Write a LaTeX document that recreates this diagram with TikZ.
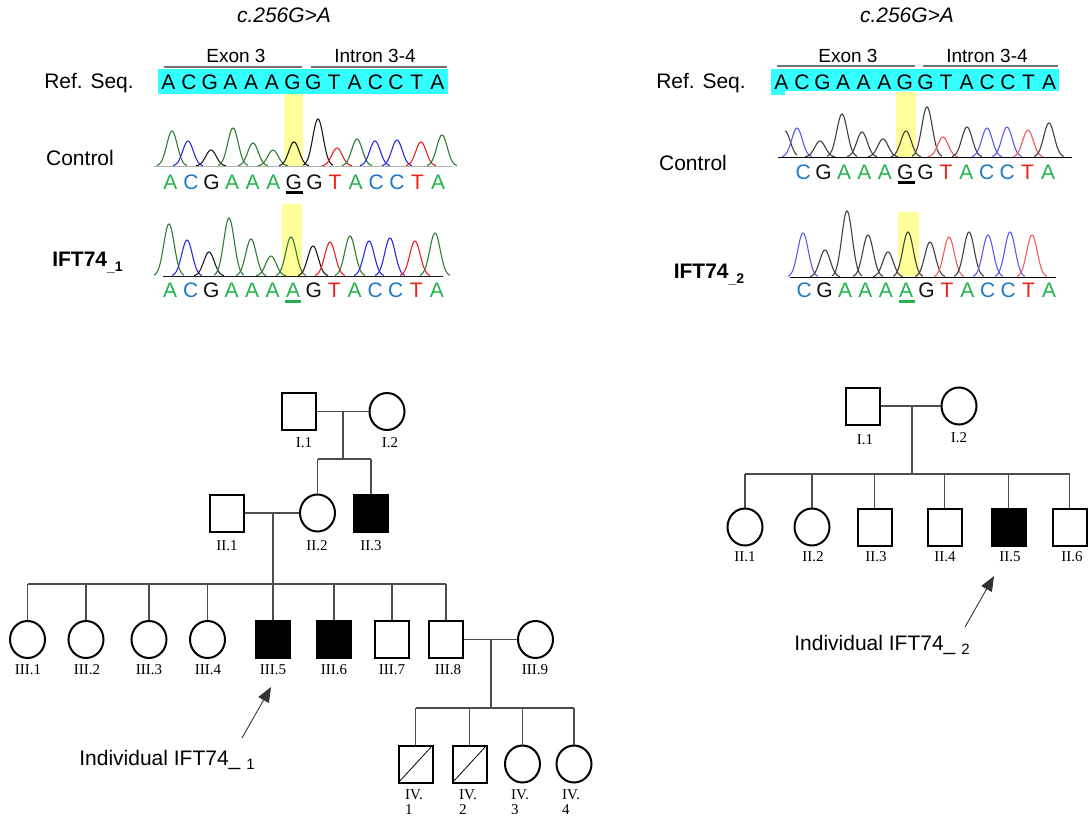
\documentclass[tikz,border=0pt]{standalone}
\usepackage{fontspec}
\setmainfont{Liberation Sans}
\newfontfamily\tms{Liberation Serif}
\usepackage{tikz}
\usetikzlibrary{shapes.geometric,arrows.meta,positioning,calc}
\definecolor{refcyan}{HTML}{33FFFF}
\definecolor{hiyel}{HTML}{FFFF99}
\definecolor{bA}{HTML}{22B24C}
\definecolor{bC}{HTML}{1F78C8}
\definecolor{bG}{HTML}{111111}
\definecolor{bT}{HTML}{EE2219}
\definecolor{tg}{HTML}{2E7D34}
\definecolor{tb}{HTML}{2A2AE0}
\definecolor{tk}{HTML}{1A1A1A}
\definecolor{tr}{HTML}{E82020}
\definecolor{rb}{HTML}{5A5AF0}
\definecolor{rk}{HTML}{404040}
\definecolor{rr}{HTML}{F05A5A}
\tikzstyle{male} = [rectangle, draw=black, line width=2pt, minimum width=34pt, minimum height=37pt, inner sep=0pt]
\tikzstyle{female} = [ellipse, draw=black, line width=2pt, minimum width=35pt, minimum height=37pt, inner sep=0pt]
\tikzstyle{affected} = [male, fill=black]
\tikzstyle{carrier} = [male, path picture={\draw[line width=0.8pt] (path picture bounding box.south west) -- (path picture bounding box.north east);}]
\tikzstyle{pedlab} = [font=\tms\fontsize{15}{15.5}\selectfont, inner sep=0pt]
\tikzstyle{kin} = [line width=1.1pt, draw=black!70]
\tikzstyle{arrow} = [-{Triangle[length=15pt,width=12pt]}, line width=0.9pt, draw=black!80]
\tikzstyle{seqbase} = [font=\fontsize{21}{21}\selectfont, inner sep=0pt]
\tikzstyle{rowlab} = [font=\fontsize{21}{21}\selectfont, inner sep=0pt]
\tikzstyle{mutlab} = [font=\itshape\fontsize{21}{21}\selectfont, inner sep=0pt]
\tikzstyle{exlab} = [font=\fontsize{19}{19}\selectfont, inner sep=0pt]
\tikzstyle{exline} = [line width=1.5pt, draw=black!55]
% 测序峰 #1 基线, #2 峰列表
\newcommand{\peaks}[2]{%
  \foreach \px/\ph/\pc in {#2}
    \draw[\pc, line width=1.1pt] plot[domain=-15:15, samples=31, smooth] ({\px+\x}, {#1-\ph*exp(-(\x*\x)/55)});}
% 碱基序列 #1 名字, #2 起点, #3 间距, #4 y, #5 碱基, #6 颜色前缀
\newcommand{\seqrow}[6]{%
  \foreach \b [count=\i] in {#5}
    \node[seqbase, text=#6\b] (#1\i) at ({#2+#3*(\i-0.5)}, #4) {\b};}
\colorlet{kA}{black}\colorlet{kC}{black}\colorlet{kG}{black}\colorlet{kT}{black}
\begin{document}
\begin{tikzpicture}[x=1pt, y=-1pt]
  \useasboundingbox (0,0) rectangle (1088,819);
  %背景高亮
  \fill[hiyel] (284,94) rectangle (303,166);
  \fill[hiyel] (282,204) rectangle (302,276);
  \fill[hiyel] (896,92) rectangle (916,157);
  \fill[hiyel] (898,212) rectangle (919,276);
  \fill[refcyan] (158,69) rectangle (448,94);
  \fill[refcyan] (771,69) rectangle (1059,91);
  \fill[refcyan] (771,90) rectangle (785,95);
  %左侧测序结果
  \node[mutlab] (mutL) at (284,15) {c.256G>A};
  \node[exlab] (exL) at (236,56) {Exon 3};
  \node[exlab] (inL) at (375,56) {Intron 3-4};
  \draw[exline] (164,67) -- (302,67);
  \draw[exline] (311,67) -- (447,67);
  \node[rowlab] (refL) at (89,83) {Ref. Seq.};
  \node[rowlab] (ctlL) at (80,158) {Control};
  \node[rowlab] (patL) at (87.5,263) {\bfseries IFT74\raisebox{-5pt}{\fontsize{14}{14}\selectfont\_1}};
  \seqrow{lr}{158}{20.7}{82}{A,C,G,A,A,A,G,G,T,A,C,C,T,A}{k}
  \draw[gray!60, line width=0.8pt] (154,166) -- (452,166);
  \peaks{166}{172/35/tg, 188/25/tb, 211/16/tk, 233/38/tg, 253/23/tg, 273/16/tg, 294/24/tk, 318/47/tk, 337/18/tr, 357/27/tg, 375/25/tb, 397/26/tb, 421/24/tr, 442/31/tg}
  \seqrow{lc}{160}{20.6}{182.5}{A,C,G,A,A,A,G,G,T,A,C,C,T,A}{b}
  \draw[line width=2.4pt] (286,192.5) -- (303,192.5);
  \draw[tk, line width=1pt] (163,276) -- (443,276);
  \peaks{276}{169/52/tg, 187/36/tb, 209/24/tk, 229/58/tg, 251/37/tg, 271/20/tg, 291/39/tg, 313/30/tk, 330/34/tr, 350/40/tg, 369/35/tb, 390/38/tb, 415/35/tr, 435/43/tg}
  \seqrow{lp}{160}{20.5}{290.5}{A,C,G,A,A,A,A,G,T,A,C,C,T,A}{b}
  \draw[bA, line width=2.4pt] (285,301.5) -- (301,301.5);
  %右侧测序结果
  \node[mutlab] (mutR) at (907,15) {c.256G>A};
  \node[exlab] (exR) at (848,56) {Exon 3};
  \node[exlab] (inR) at (987,56) {Intron 3-4};
  \draw[exline] (777,66) -- (915,66);
  \draw[exline] (923,66) -- (1058,66);
  \node[rowlab] (refR) at (701,83) {Ref. Seq.};
  \node[rowlab] (ctlR) at (693,163) {Control};
  \node[rowlab] (patR) at (709,275) {\bfseries IFT74\raisebox{-5pt}{\fontsize{14}{14}\selectfont\_2}};
  \seqrow{rr}{771}{20.6}{82}{A,C,G,A,A,A,G,G,T,A,C,C,T,A}{k}
  \draw[black, line width=1pt] (778,157) -- (1072,157);
  \draw[rk, line width=1.1pt] plot[domain=0:12, samples=13, smooth] ({785+\x}, {157-26*exp(-(\x*\x)/55)});
  \peaks{157}{797/29/rb, 820/16/rk, 842/43/rk, 862/25/rk, 883/18/rk, 906/26/rk, 927/50/rk, 943/20/rr, 967/30/rk, 987/29/rb, 1007/30/rb, 1028/27/rr, 1049/34/rk}
  \seqrow{rc}{793}{20.4}{172.5}{C,G,A,A,A,G,G,T,A,C,C,T,A}{b}
  \draw[line width=2.4pt] (898,182.5) -- (915,182.5);
  \draw[black, line width=1pt] (790,277) -- (1056,277);
  \peaks{277}{803/44/rb, 825/27/rk, 847/66/rk, 868/42/rk, 888/25/rk, 908/45/rk, 930/35/rk, 949/40/rr, 969/45/rk, 988/42/rb, 1010/45/rb, 1032/42/rr}
  \seqrow{rp}{794}{20.4}{290.5}{C,G,A,A,A,A,G,T,A,C,C,T,A}{b}
  \draw[bA, line width=2.4pt] (899,301.5) -- (915,301.5);
  %左侧家系图
  \node[male] (lI1) at (298.5,411.5) {};
  \node[female] (lI2) at (387,411.5) {};
  \node[male] (lII1) at (226.5,513) {};
  \node[female] (lII2) at (317.5,513) {};
  \node[affected] (lII3) at (371,513.5) {};
  \node[female] (lIII1) at (27.5,639.5) {};
  \node[female] (lIII2) at (86,639.5) {};
  \node[female] (lIII3) at (149,639.5) {};
  \node[female] (lIII4) at (207.5,639.5) {};
  \node[affected] (lIII5) at (273,639.5) {};
  \node[affected] (lIII6) at (334,639.5) {};
  \node[male] (lIII7) at (392,639.5) {};
  \node[male] (lIII8) at (446,639.5) {};
  \node[female] (lIII9) at (535.5,639.5) {};
  \node[carrier] (lIV1) at (415.5,764) {};
  \node[carrier] (lIV2) at (469.5,764) {};
  \node[female] (lIV3) at (522.5,764) {};
  \node[female] (lIV4) at (574,764) {};
  \node[pedlab] (lI1l) at (304,443) {I.1};
  \node[pedlab] (lI2l) at (390,443) {I.2};
  \node[pedlab] (lII1l) at (227,546) {II.1};
  \node[pedlab] (lII2l) at (317,546) {II.2};
  \node[pedlab] (lII3l) at (371,546) {II.3};
  \foreach \n/\lx in {1/28, 2/87, 3/149, 4/208, 5/273, 6/334, 7/392, 8/448, 9/535}
    \node[pedlab] (lIII\n l) at (\lx,670) {III.\n};
  \foreach \n/\lx in {1/405, 2/459, 3/511, 4/562}
    \node[pedlab, anchor=north west, align=left] (lIV\n l) at (\lx,789) {IV.\\\n};
  %连接
  \coordinate (lm1) at (343,411.5);
  \coordinate (ls1) at (343,459);
  \draw[kin] (lI1) -- (lI2);
  \draw[kin] (lm1) -- (ls1);
  \draw[kin] (ls1 -| lII2) -- (ls1 -| lII3);
  \foreach \c in {lII2,lII3} \draw[kin] (ls1 -| \c) -- (\c);
  \coordinate (lm2) at (273,513);
  \coordinate (ls2) at (273,584);
  \draw[kin] (lII1) -- (lII2);
  \draw[kin] (lm2) -- (ls2);
  \draw[kin] (ls2 -| lIII1) -- (ls2 -| lIII8);
  \foreach \c in {lIII1,lIII2,lIII3,lIII4,lIII5,lIII6,lIII7,lIII8} \draw[kin] (ls2 -| \c) -- (\c);
  \coordinate (lm3) at (491,639.5);
  \coordinate (ls3) at (491,708);
  \draw[kin] (lIII8) -- (lIII9);
  \draw[kin] (lm3) -- (ls3);
  \draw[kin] (ls3 -| lIV1) -- (ls3 -| lIV4);
  \foreach \c in {lIV1,lIV2,lIV3,lIV4} \draw[kin] (ls3 -| \c) -- (\c);
  \node[rowlab] (lind) at (167,760) {Individual IFT74\_ \raisebox{-4pt}{\fontsize{15}{15}\selectfont 1}};
  \coordinate (lat) at (242,738);
  \coordinate (lah) at (271,687);
  \draw[arrow] (lat) -- (lah);
  %右侧家系图
  \node[male] (rI1) at (862.5,406) {};
  \node[female] (rI2) at (959,406) {};
  \node[female] (rII1) at (745,527) {};
  \node[female] (rII2) at (812,527) {};
  \node[male] (rII3) at (874.5,527) {};
  \node[male] (rII4) at (944.5,527) {};
  \node[affected] (rII5) at (1008.5,527) {};
  \node[male] (rII6) at (1069.5,527) {};
  \node[pedlab] (rI1l) at (865,440) {I.1};
  \node[pedlab] (rI2l) at (959,438) {I.2};
  \foreach \n/\lx in {1/745, 2/813, 3/876, 4/945, 5/1010, 6/1072}
    \node[pedlab] (rII\n l) at (\lx,557) {II.\n};
  \coordinate (rm1) at (912,406);
  \coordinate (rs1) at (912,474);
  \draw[kin] (rI1) -- (rI2);
  \draw[kin] (rm1) -- (rs1);
  \draw[kin] (rs1 -| rII1) -- (rs1 -| rII6);
  \foreach \c in {rII1,rII2,rII3,rII4,rII5,rII6} \draw[kin] (rs1 -| \c) -- (\c);
  \node[rowlab] (rind) at (882,645) {Individual IFT74\_ \raisebox{-4pt}{\fontsize{15}{15}\selectfont 2}};
  \coordinate (rat) at (965,627);
  \coordinate (rah) at (994,576);
  \draw[arrow] (rat) -- (rah);
\end{tikzpicture}
\end{document}
